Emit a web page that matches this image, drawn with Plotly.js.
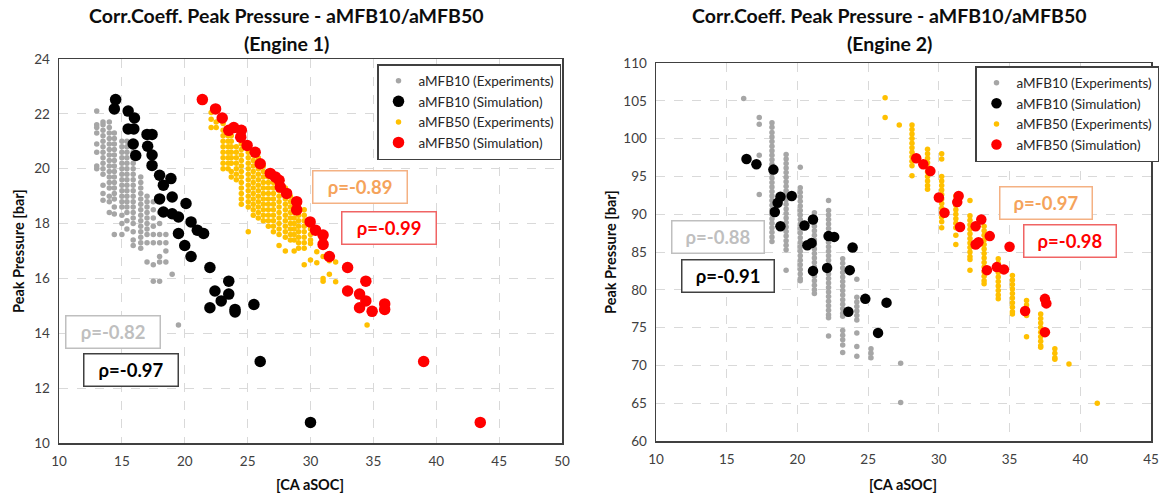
<!DOCTYPE html>
<html>
<head>
<meta charset="utf-8">
<script src="https://cdn.plot.ly/plotly-3.0.1.min.js"></script>
<style>html,body{margin:0;padding:0;background:#fff;}#chart{width:1163px;height:497px;}</style>
</head>
<body>
<div id="chart"></div>
<script>
// ---------- Engine 1 ----------
// aMFB10 experiments: column x positions and y values in each column
const e1Exp10X = [13.0, 13.5, 14.0, 14.4, 15.0, 15.4, 15.9, 16.5, 17.0, 17.5, 18.0, 18.5, 19.0, 19.5];
const e1Exp10Y = [
  [22.1, 21.6, 21.5, 21.3, 20.9, 20.6, 20.1, 20.0],
  [21.7, 21.6, 21.4, 21.2, 21.0, 20.8, 20.6, 20.4, 20.2, 20.0, 19.8, 19.4, 19.1, 18.85],
  [21.7, 21.5, 21.3, 21.1, 20.9, 20.7, 20.5, 20.3, 20.1, 19.9, 19.7, 19.5, 19.3, 19.0, 18.8, 18.4],
  [21.3, 21.1, 20.9, 20.7, 20.5, 20.3, 20.1, 19.9, 19.7, 19.5, 19.3, 19.1, 18.9, 18.6, 18.35, 17.6],
  [21.0, 20.8, 20.6, 20.4, 20.2, 20.0, 19.8, 19.6, 19.4, 19.2, 19.0, 18.8, 18.6, 18.3, 18.0, 17.6],
  [21.0, 20.8, 20.6, 20.4, 20.2, 20.0, 19.8, 19.6, 19.4, 19.2, 19.0, 18.8, 18.6, 18.4, 18.1, 17.8],
  [20.8, 20.6, 20.4, 20.2, 20.0, 19.8, 19.6, 19.4, 19.2, 19.0, 18.8, 18.6, 18.4, 18.2, 18.0, 17.7, 17.4, 17.2],
  [19.7, 19.5, 19.3, 19.1, 18.9, 18.7, 18.5, 18.3, 18.1, 17.9, 17.7, 17.5, 17.3, 17.1],
  [19.0, 18.8, 18.6, 18.4, 18.2, 18.0, 17.8, 17.6, 17.3, 16.6],
  [18.8, 18.5, 18.2, 17.9, 17.6, 17.3, 16.5, 15.9],
  [18.4, 18.0, 17.6, 17.3, 16.8, 16.6, 15.9],
  [17.6, 17.3, 17.0, 16.6],
  [16.15],
  [14.3]
];
// aMFB10 simulation
const e1Sim10X = [14.5, 14.4, 15.5, 16.0, 15.5, 15.95, 17.0, 17.4, 17.05, 15.9, 16.1, 17.4, 17.4, 18.0, 18.9, 18.3, 18.0, 19.0, 20.1, 18.3, 19.0, 19.5, 20.5, 19.5, 21.0, 21.5, 20.0, 20.5, 22.0, 23.5, 22.4, 23.5, 22.9, 22.0, 24.0, 24.0, 25.5, 26.0, 30.0];
const e1Sim10Y = [22.52, 22.18, 22.1, 21.85, 21.45, 21.45, 21.25, 21.25, 20.82, 20.9, 20.48, 20.5, 20.12, 19.76, 19.64, 19.4, 18.9, 18.97, 18.73, 18.42, 18.36, 18.24, 18.06, 17.64, 17.76, 17.64, 17.2, 16.8, 16.4, 15.9, 15.54, 15.43, 15.18, 14.93, 14.87, 14.78, 15.05, 12.97, 10.75];
// aMFB50 experiments
const e1Exp50X = [22.1, 22.5, 23.05, 23.45, 23.7, 24.1, 24.5, 25.05, 25.45, 25.85, 26.25, 26.65, 27.05, 27.5, 28.0, 28.4, 28.7, 29.05, 29.5, 30.0, 30.5, 31.0, 31.5, 32.0, 34.5];
const e1Exp50Y = [
  [22.05, 21.8, 21.5],
  [21.7, 21.5],
  [21.65, 21.4, 21.2, 21.0, 20.8, 20.6, 20.4, 20.2, 20.0],
  [21.2, 21.0, 20.8, 20.6, 20.4, 20.2, 20.0],
  [21.4, 21.2, 21.0, 20.8, 20.6, 20.4, 20.2, 19.9, 19.7],
  [20.8, 20.6, 20.4, 20.2, 20.0, 19.8, 19.6],
  [20.9, 20.7, 20.5, 20.3, 20.1, 19.9, 19.7, 19.5, 19.3, 19.1, 18.9, 18.7],
  [20.6, 20.4, 20.2, 20.0, 19.8, 19.6, 19.4, 19.2, 19.0, 18.8, 18.6, 17.7],
  [20.5, 20.3, 20.1, 19.9, 19.7, 19.5, 19.3, 19.1, 18.9, 18.7, 18.5, 18.3],
  [20.4, 20.2, 20.0, 19.8, 19.6, 19.4, 19.2, 19.0, 18.8, 18.6, 18.4, 18.2],
  [20.1, 19.9, 19.7, 19.5, 19.3, 19.1, 18.9, 18.7, 18.5, 18.3, 18.1],
  [19.9, 19.7, 19.5, 19.3, 19.1, 18.9, 18.7, 18.5, 18.3, 18.1, 17.9],
  [19.7, 19.5, 19.3, 19.1, 18.9, 18.7, 18.5, 18.3, 18.1, 17.9, 17.7],
  [19.6, 19.4, 19.2, 19.0, 18.8, 18.6, 18.4, 18.2, 18.0, 17.8, 17.6, 17.2],
  [19.3, 19.1, 18.9, 18.7, 18.5, 18.3, 18.1, 17.9, 17.7, 17.5, 17.0],
  [19.0, 18.8, 18.6, 18.4, 18.2, 18.0, 17.8, 17.6, 17.4],
  [18.8, 18.6, 18.4, 18.2, 18.0, 17.8, 17.6, 17.4, 17.0],
  [18.7, 18.5, 18.3, 18.1, 17.9, 17.7, 17.5, 17.3, 17.1],
  [18.5, 18.3, 18.1, 17.9, 17.7, 17.5, 17.3, 17.1, 16.5],
  [17.8, 17.6, 17.4, 17.27, 16.67],
  [16.97, 16.57],
  [16.8, 16.0, 15.9],
  [16.64, 16.15],
  [16.6, 15.88],
  [14.3]
];
// aMFB50 simulation
const e1Sim50X = [21.4, 22.45, 22.98, 23.5, 23.9, 24.5, 24.45, 24.96, 25.6, 26.0, 26.8, 27.2, 27.5, 27.6, 28.1, 28.9, 28.9, 29.97, 30.4, 31.0, 31.0, 31.5, 32.95, 34.4, 32.95, 33.9, 34.4, 33.9, 34.9, 35.9, 35.9, 39.0, 43.5];
const e1Sim50Y = [22.52, 22.18, 21.85, 21.4, 21.5, 21.4, 21.15, 20.85, 20.6, 20.18, 19.83, 19.7, 19.58, 19.33, 19.1, 18.8, 18.5, 18.06, 17.76, 17.58, 17.24, 16.8, 16.4, 15.9, 15.54, 15.43, 15.18, 14.93, 14.8, 15.07, 14.87, 12.97, 10.75];

// ---------- Engine 2 ----------
const e2Exp10X = [16.2, 17.3, 18.2, 19.2, 20.2, 21.2, 22.2, 23.2, 24.2, 25.2, 27.3];
const e2Exp10Y = [
  [105.3],
  [102.8, 101.9, 97.8, 92.6],
  [102.1, 101.5, 100.8, 100.2, 99.6, 99.0, 98.4, 97.8, 97.2, 96.6, 96.0, 95.4, 94.8, 94.2, 93.6, 93.0, 92.4, 91.8, 91.2, 90.6, 90.0, 89.4, 88.8, 88.2, 87.6, 87.0, 86.4],
  [97.9, 97.3, 96.7, 96.1, 95.5, 94.9, 94.3, 93.7, 93.1, 92.5, 91.9, 91.3, 90.7, 90.1, 89.5, 88.9, 88.3, 87.7, 87.1, 86.5, 85.9, 85.3, 82.6],
  [96.2, 93.5, 92.9, 92.3, 91.7, 91.1, 90.5, 89.9, 89.3, 88.7, 88.1, 87.5, 86.9, 86.3, 85.7, 85.1, 84.5, 83.9, 83.3, 82.7, 82.1, 81.5, 81.2],
  [90.2, 89.6, 89.0, 88.4, 87.8, 87.2, 86.6, 86.0, 85.4, 84.8, 84.2, 83.6, 83.0, 82.4, 81.8, 81.2, 80.6, 80.0, 79.5],
  [91.8, 90.5, 89.9, 89.3, 88.7, 88.1, 87.5, 86.9, 86.3, 85.7, 85.1, 84.5, 83.9, 83.3, 82.7, 82.1, 81.5, 80.9, 80.3, 79.7, 79.1, 78.5, 77.9, 77.3, 76.7, 76.3, 73.9],
  [84.1, 83.5, 82.9, 82.3, 81.7, 81.1, 80.5, 79.9, 79.3, 78.7, 78.1, 77.5, 76.9, 76.5, 74.6, 74.0, 73.4, 72.7, 71.7],
  [81.4, 79.0, 78.4, 77.8, 77.2, 76.6, 76.0, 74.3, 72.5, 71.2],
  [72.2, 71.6, 71.0],
  [70.3, 65.1]
];
const e2Sim10X = [16.4, 17.1, 18.3, 18.8, 18.6, 19.6, 18.4, 18.8, 21.1, 20.5, 22.2, 22.6, 20.7, 21.0, 23.9, 21.1, 22.1, 23.7, 24.8, 26.3, 23.6, 25.7];
const e2Sim10Y = [97.3, 96.6, 95.9, 92.3, 91.5, 92.4, 90.3, 88.4, 89.3, 88.5, 87.1, 87.0, 85.9, 86.2, 85.6, 82.5, 82.9, 82.6, 78.8, 78.3, 77.1, 74.3];
const e2Exp50X = [26.2, 27.2, 28.1, 29.2, 30.2, 31.2, 32.2, 33.2, 34.2, 35.2, 36.2, 37.2, 38.2, 39.2, 41.2];
const e2Exp50Y = [
  [105.4, 102.8],
  [101.8],
  [101.8, 101.2, 100.6, 100.0, 99.4, 98.8, 98.2, 97.6, 97.0, 96.4, 95.1],
  [98.6, 98.0, 97.4, 96.8, 96.2, 95.6, 95.0, 94.4, 93.8, 93.3],
  [98.0, 97.3, 95.0, 94.4, 93.8, 93.2, 92.6, 92.0, 91.4, 90.8, 90.2, 89.6, 89.0, 88.2],
  [92.4, 91.8, 91.2, 90.6, 90.0, 89.4, 88.8, 88.2, 87.2, 86.0],
  [91.8, 89.8, 89.2, 88.6, 88.0, 87.4, 86.8, 86.2, 85.6, 85.0, 84.4, 84.0, 82.6],
  [88.4, 87.8, 87.2, 86.6, 86.0, 85.4, 84.8, 84.2, 83.6, 83.0, 82.4, 81.8, 81.2, 80.8],
  [84.1, 83.5, 82.9, 82.3, 81.7, 81.1, 80.5, 79.9, 79.3, 78.8],
  [81.9, 81.3, 80.7, 80.1, 79.5, 78.9, 78.3, 77.7, 77.1, 76.8],
  [78.6, 78.0, 77.4, 76.6, 73.8],
  [76.8, 76.2, 75.6, 75.0, 74.4, 73.8, 73.2, 72.6, 72.4],
  [72.2, 71.6, 71.0, 70.8],
  [70.2],
  [65.0]
];
const e2Sim50X = [28.4, 28.9, 29.4, 30.0, 30.4, 31.4, 31.3, 31.5, 32.6, 33.0, 32.6, 32.8, 33.6, 35.0, 33.4, 34.1, 34.6, 37.5, 37.6, 36.1, 37.5];
const e2Sim50Y = [97.4, 96.6, 95.7, 92.2, 90.2, 92.4, 91.6, 88.3, 88.4, 89.3, 86.0, 86.3, 87.1, 85.7, 82.6, 83.0, 82.7, 78.8, 78.2, 77.2, 74.4];

// text
const seriesNames = ['aMFB10 (Experiments)', 'aMFB10 (Simulation)', 'aMFB50 (Experiments)', 'aMFB50 (Simulation)'];
const titles = ['Corr.Coeff. Peak Pressure - aMFB10/aMFB50', '(Engine 1)', '(Engine 2)'];
const rho1 = ['ρ=-0.82', 'ρ=-0.97', 'ρ=-0.89', 'ρ=-0.99'];
const rho2 = ['ρ=-0.88', 'ρ=-0.91', 'ρ=-0.97', 'ρ=-0.98'];

function flat(cols, ys) {
  const x = [], y = [];
  cols.forEach((c, i) => ys[i].forEach(v => { x.push(c); y.push(v); }));
  return {x, y};
}

const FONT = 'Lato, "Open Sans", sans-serif';
const colors = ['#A6A6A6', '#000000', '#FFC000', '#FF0000'];

function traces(exp10, sim10x, sim10y, exp50, sim50x, sim50y, xa, ya, leg, small, big) {
  const e10 = flat(exp10[0], exp10[1]);
  const e50 = flat(exp50[0], exp50[1]);
  return [
    {x: e10.x, y: e10.y, name: seriesNames[0], marker: {color: colors[0], size: small}},
    {x: sim10x, y: sim10y, name: seriesNames[1], marker: {color: colors[1], size: big}},
    {x: e50.x, y: e50.y, name: seriesNames[2], marker: {color: colors[2], size: small}},
    {x: sim50x, y: sim50y, name: seriesNames[3], marker: {color: colors[3], size: big}}
  ].map(t => Object.assign(t, {type: 'scatter', mode: 'markers', xaxis: xa, yaxis: ya, legend: leg, hoverinfo: 'skip'}));
}

const data = [].concat(
  traces([e1Exp10X, e1Exp10Y], e1Sim10X, e1Sim10Y, [e1Exp50X, e1Exp50Y], e1Sim50X, e1Sim50Y, 'x', 'y', 'legend', 5.5, 11.5),
  traces([e2Exp10X, e2Exp10Y], e2Sim10X, e2Sim10Y, [e2Exp50X, e2Exp50Y], e2Sim50X, e2Sim50Y, 'x2', 'y2', 'legend2', 5.5, 10.5)
);

const axBase = {
  showline: true, mirror: true, linecolor: '#404040', linewidth: 1.5,
  showgrid: true, gridcolor: '#D9D9D9', griddash: 'dash', gridwidth: 1,
  zeroline: false, ticks: 'outside', ticklen: 5, tickcolor: 'rgba(0,0,0,0)',
  tickfont: {family: FONT, size: 13.5, color: '#404040'}, fixedrange: true
};
const W = 1163, H = 497;
const px = v => v / W, py = v => 1 - v / H;

const legBase = {
  bgcolor: '#FFFFFF', bordercolor: '#404040', borderwidth: 1.5,
  font: {family: FONT, size: 13.5, color: '#262626'},
  xanchor: 'left', yanchor: 'top', tracegroupgap: 0, itemwidth: 30
};

function rhoAnn(text, x, y, xref, yref, color, border, w, h) {
  return {text: '<b>' + text + '</b>', x: x, y: y, xref: xref, yref: yref, showarrow: false,
    font: {family: FONT, size: 18.5, color: color}, bordercolor: border, borderwidth: 1.5,
    borderpad: 0, bgcolor: '#FFFFFF', width: w, height: h, align: 'center', valign: 'middle'};
}
function textAnn(text, x, y, size, angle) {
  return {text: text, x: x, y: y, xref: 'paper', yref: 'paper', showarrow: false,
    font: {family: FONT, size: size, color: '#0D0D0D'}, textangle: angle || 0,
    xanchor: 'center', yanchor: 'middle'};
}

const layout = {
  width: W, height: H, margin: {l: 0, r: 0, t: 0, b: 0},
  paper_bgcolor: '#FFFFFF', plot_bgcolor: '#FFFFFF',
  showlegend: true,
  xaxis: Object.assign({}, axBase, {domain: [px(59), px(562)], range: [10, 50], dtick: 5, anchor: 'y'}),
  yaxis: Object.assign({}, axBase, {domain: [py(443), py(59)], range: [10, 24], dtick: 2, anchor: 'x'}),
  xaxis2: Object.assign({}, axBase, {domain: [px(656), px(1151)], range: [10, 45], dtick: 5, anchor: 'y2'}),
  yaxis2: Object.assign({}, axBase, {domain: [py(441), py(63)], range: [60, 110], dtick: 5, anchor: 'x2'}),
  legend: Object.assign({}, legBase, {x: px(377), y: py(64)}),
  legend2: Object.assign({}, legBase, {x: px(975), y: py(66)}),
  annotations: [
    textAnn('<b>' + titles[0] + '</b>', px(286), py(16), 19.5),
    textAnn('<b>' + titles[1] + '</b>', px(286), py(43), 19.5),
    textAnn('<b>' + titles[0] + '</b>', px(889), py(16), 19.5),
    textAnn('<b>' + titles[2] + '</b>', px(889), py(43), 19.5),
    textAnn('<b>Peak Pressure [bar]</b>', px(18), py(251), 14.5, -90),
    textAnn('<b>Peak Pressure [bar]</b>', px(610), py(252), 14.5, -90),
    textAnn('<b>[CA aSOC]</b>', px(310), py(484), 14.5),
    textAnn('<b>[CA aSOC]</b>', px(903), py(484), 14.5),
    rhoAnn(rho1[0], 14.32, 14.03, 'x', 'y', '#BFBFBF', '#BFBFBF', 93, 31),
    rhoAnn(rho1[1], 15.7, 12.65, 'x', 'y', '#000000', '#404040', 93, 31),
    rhoAnn(rho1[2], 33.9, 19.33, 'x', 'y', '#F5A35B', '#F4B183', 93, 31),
    rhoAnn(rho1[3], 36.25, 17.85, 'x', 'y', '#FF0000', '#F06464', 93, 31),
    rhoAnn(rho2[0], 14.4, 86.95, 'x2', 'y2', '#BFBFBF', '#BFBFBF', 91, 31),
    rhoAnn(rho2[1], 15.1, 81.85, 'x2', 'y2', '#000000', '#404040', 91, 31),
    rhoAnn(rho2[2], 37.6, 91.45, 'x2', 'y2', '#F5A35B', '#F4B183', 91, 31),
    rhoAnn(rho2[3], 39.3, 86.5, 'x2', 'y2', '#FF0000', '#F06464', 91, 31)
  ]
};

Plotly.newPlot('chart', data, layout, {displayModeBar: false, staticPlot: true});
</script>
</body>
</html>
